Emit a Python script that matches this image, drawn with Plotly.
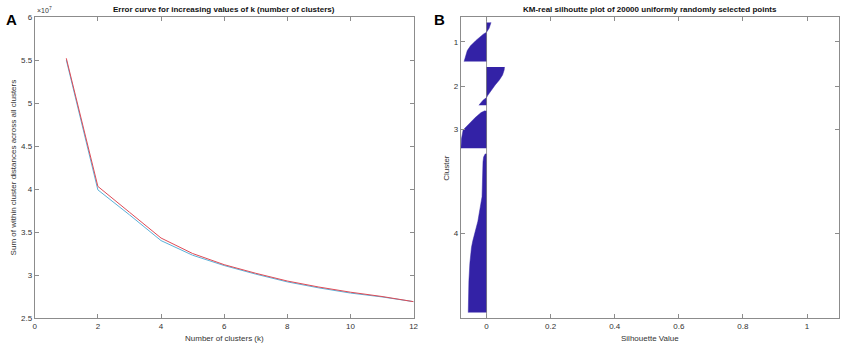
import plotly.graph_objects as go

# ---------------- Panel A data ----------------
k_values = [1, 2, 3, 4, 5, 6, 7, 8, 9, 10, 11, 12]
err_red = [5.52e7, 4.03e7, 3.73e7, 3.43e7, 3.25e7, 3.12e7, 3.02e7, 2.93e7, 2.86e7, 2.80e7, 2.75e7, 2.69e7]
err_blue = [5.50e7, 3.99e7, 3.70e7, 3.40e7, 3.23e7, 3.11e7, 3.01e7, 2.92e7, 2.85e7, 2.79e7, 2.745e7, 2.69e7]
a_yticks = [2.5e7, 3e7, 3.5e7, 4e7, 4.5e7, 5e7, 5.5e7, 6e7]
a_yticklabels = ["2.5", "3", "3.5", "4", "4.5", "5", "5.5", "6"]
a_xticks = [0, 2, 4, 6, 8, 10, 12]

# ---------------- Panel B data ----------------
cluster_names = ["1", "2", "3", "4"]
cluster_sizes = [2850, 2800, 2750, 11600]
gap = 400
# sorted silhouette profiles: (rank fraction within cluster, silhouette value)
c1_rank = [0.0, 0.05, 0.15, 0.25, 0.30, 0.46, 0.60, 0.72, 0.90, 1.0]
c1_sil = [0.014, 0.012, 0.008, 0.0, -0.010, -0.033, -0.050, -0.060, -0.068, -0.070]
c2_rank = [0.0, 0.08, 0.21, 0.34, 0.47, 0.61, 0.74, 0.80, 0.87, 1.0]
c2_sil = [0.056, 0.055, 0.050, 0.040, 0.027, 0.014, 0.004, 0.0, -0.011, -0.024]
c3_rank = [0.0, 0.05, 0.18, 0.31, 0.38, 0.51, 0.74, 1.0]
c3_sil = [-0.005, -0.017, -0.035, -0.050, -0.060, -0.073, -0.078, -0.080]
c4_rank = [0.0, 0.02, 0.05, 0.27, 0.425, 0.49, 0.55, 0.59, 0.69, 0.80, 1.0]
c4_sil = [-0.004, -0.009, -0.011, -0.014, -0.027, -0.036, -0.043, -0.047, -0.052, -0.055, -0.057]
profiles = [(c1_rank, c1_sil), (c2_rank, c2_sil), (c3_rank, c3_sil), (c4_rank, c4_sil)]
b_xticks = [0, 0.2, 0.4, 0.6, 0.8, 1]
b_xticklabels = ["0", "0.2", "0.4", "0.6", "0.8", "1"]

FONT = "Liberation Sans, Arial, sans-serif"
AXC = "#8c8c8c"
TXT = "#333333"
RED = "#de4a55"
BLUE = "#5bb0d8"
FILL = "#3322a6"

fig = go.Figure()

fig.add_trace(go.Scatter(x=k_values, y=err_blue, mode="lines",
                         line=dict(color=BLUE, width=1), xaxis="x", yaxis="y", showlegend=False))
fig.add_trace(go.Scatter(x=k_values, y=err_red, mode="lines",
                         line=dict(color=RED, width=1), xaxis="x", yaxis="y", showlegend=False))

# silhouette shapes
start = gap
centers = []
for size, (rk, sv) in zip(cluster_sizes, profiles):
    ys = [start + r * size for r in rk]
    fig.add_trace(go.Scatter(x=sv, y=ys, mode="lines", fill="tozerox",
                             fillcolor=FILL, line=dict(color=FILL, width=0.5),
                             xaxis="x2", yaxis="y2", showlegend=False, hoverinfo="skip"))
    centers.append(start + size / 2)
    start += size + gap
total = start

# baseline at 0
fig.add_trace(go.Scatter(x=[0, 0], y=[0, total], mode="lines",
                         line=dict(color="#555555", width=0.6),
                         xaxis="x2", yaxis="y2", showlegend=False, hoverinfo="skip"))

axis_common = dict(showline=True, linecolor=AXC, linewidth=1, mirror="ticks",
                   ticks="inside", ticklen=4, tickcolor=AXC, showgrid=False, zeroline=False,
                   tickfont=dict(family=FONT, size=8, color=TXT))

fig.update_layout(
    width=851, height=347,
    margin=dict(l=0, r=0, t=17, b=29),
    plot_bgcolor="white", paper_bgcolor="white",
    xaxis=dict(domain=[33 / 851, 415 / 851], range=[0, 12], tickvals=a_xticks,
               anchor="y", **axis_common),
    yaxis=dict(domain=[0, 1], range=[2.5e7, 6e7], tickvals=a_yticks, ticktext=a_yticklabels,
               anchor="x", **axis_common),
    xaxis2=dict(domain=[462.7 / 851, 844 / 851], range=[-0.08, 1.1], tickvals=b_xticks,
                ticktext=b_xticklabels, anchor="y2", **axis_common),
    yaxis2=dict(domain=[0, 1], range=[total, 0], tickvals=centers, ticktext=cluster_names,
                anchor="x2", **axis_common),
)

ann = [
    dict(text="<b>Error curve for increasing values of k (number of clusters)</b>",
         x=224 / 851, y=1, xref="paper", yref="paper", xanchor="center", yanchor="bottom",
         yshift=1, showarrow=False, font=dict(family=FONT, size=8, color="#111")),
    dict(text="<b>KM-real silhoutte plot of 20000 uniformly randomly selected points</b>",
         x=653 / 851, y=1, xref="paper", yref="paper", xanchor="center", yanchor="bottom",
         yshift=1, showarrow=False, font=dict(family=FONT, size=8, color="#111")),
    dict(text="<b>A</b>", x=2 / 851, y=1, xref="paper", yref="paper", xanchor="left",
         yanchor="middle", yshift=-2, showarrow=False, font=dict(family=FONT, size=15, color="#000")),
    dict(text="<b>B</b>", x=434 / 851, y=1, xref="paper", yref="paper", xanchor="left",
         yanchor="middle", yshift=-2, showarrow=False, font=dict(family=FONT, size=15, color="#000")),
    dict(text="×10<sup>7</sup>", x=33 / 851, y=1, xref="paper", yref="paper", xanchor="left",
         yanchor="bottom", yshift=1, showarrow=False, font=dict(family=FONT, size=7, color=TXT)),
    dict(text="Sum of within cluster distances across all clusters", x=12 / 851, y=0.5,
         xref="paper", yref="paper", xanchor="center", yanchor="middle", textangle=-90,
         showarrow=False, font=dict(family=FONT, size=8, color=TXT)),
    dict(text="Cluster", x=448 / 851, y=0.5, xref="paper", yref="paper", xanchor="center",
         yanchor="middle", textangle=-90, showarrow=False, font=dict(family=FONT, size=8, color=TXT)),
    dict(text="Number of clusters (k)", x=224 / 851, y=-20 / 301, xref="paper", yref="paper",
         xanchor="center", yanchor="middle", showarrow=False, font=dict(family=FONT, size=8, color=TXT)),
    dict(text="Silhouette Value", x=653 / 851, y=-20 / 301, xref="paper", yref="paper",
         xanchor="center", yanchor="middle", showarrow=False, font=dict(family=FONT, size=8, color=TXT)),
]
fig.update_layout(annotations=ann)

fig.write_html("out.html", config={"displayModeBar": False},
               post_script="document.body.style.margin='0';document.body.style.overflow='hidden';")
